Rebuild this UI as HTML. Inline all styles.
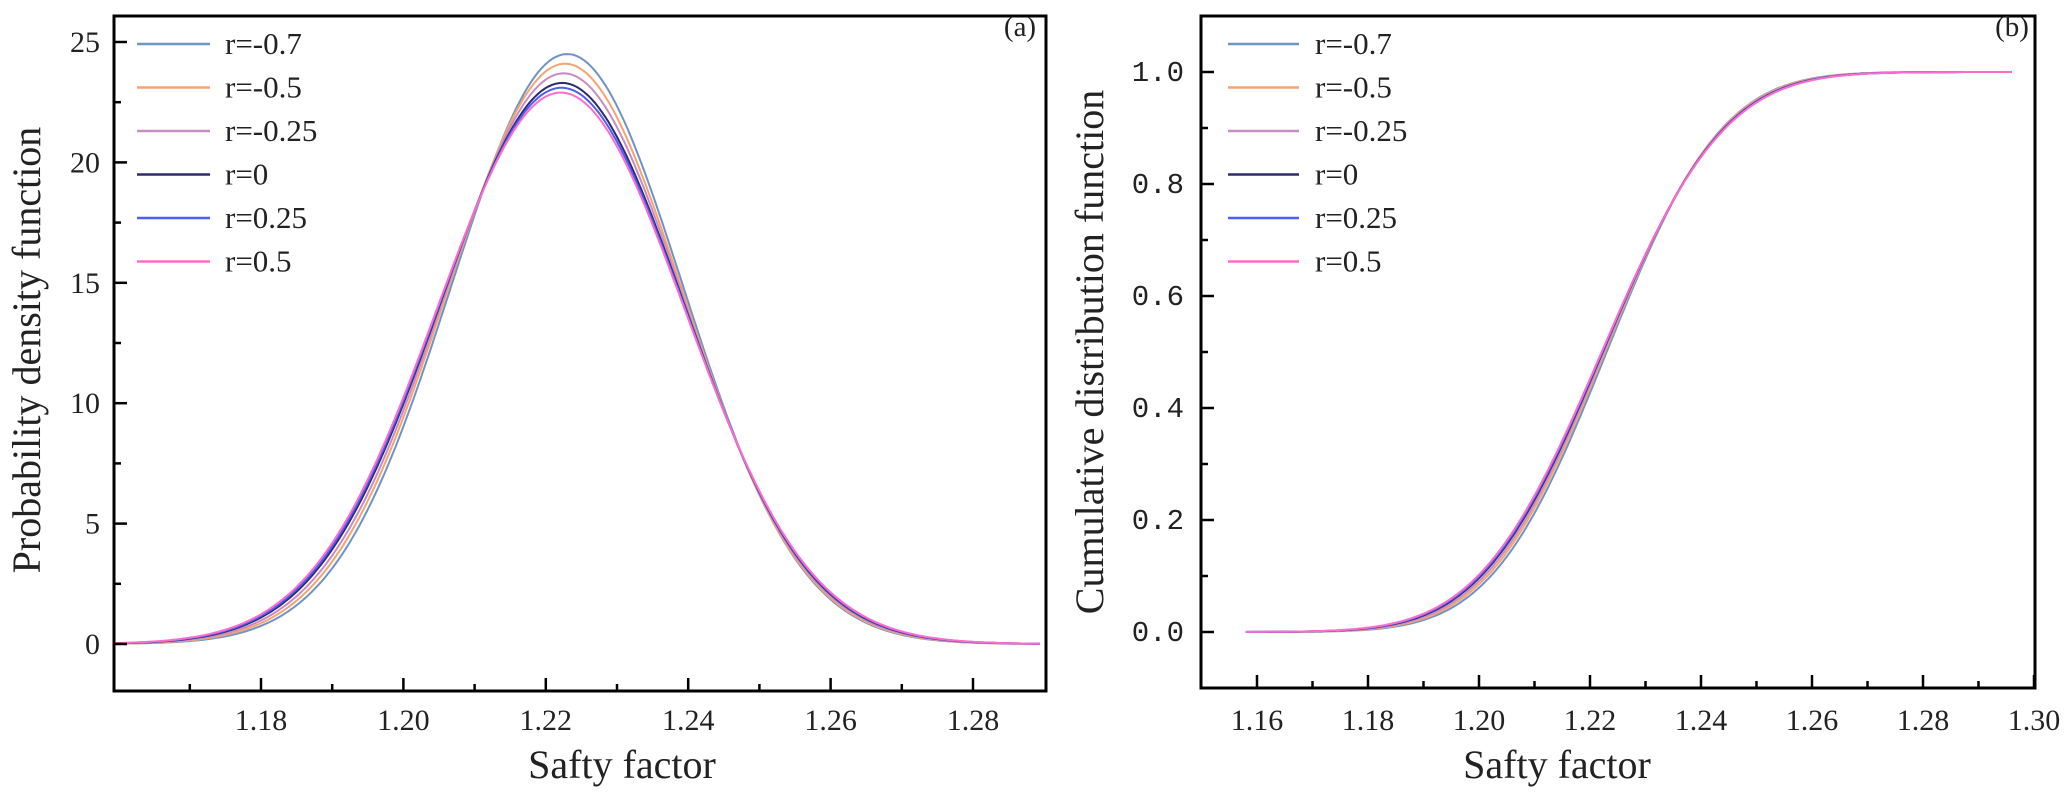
<!DOCTYPE html>
<html><head><meta charset="utf-8"><style>
html,body{margin:0;padding:0;background:#fff;}
svg text{font-family:"Liberation Serif",serif;fill:#222;}
</style></head><body>
<svg id="s" width="2065" height="789" xmlns="http://www.w3.org/2000/svg">
<rect width="2065" height="789" fill="#fff"/>
<g id="g"></g>
<text x="1020" y="36" font-size="29" text-anchor="middle">(a)</text>
<text x="2012" y="36" font-size="29" text-anchor="middle">(b)</text>
<text x="622" y="778" font-size="40" text-anchor="middle">Safty factor</text>
<text x="1557" y="778" font-size="40" text-anchor="middle">Safty factor</text>
<text transform="translate(40,350) rotate(-90)" font-size="40" text-anchor="middle">Probability density function</text>
<text transform="translate(1103,352) rotate(-90)" font-size="40" text-anchor="middle">Cumulative distribution function</text>
</svg>
<script>
var g=document.getElementById('g'),h='';
function L(x1,y1,x2,y2,c,w){h+='<line x1="'+x1+'" y1="'+y1+'" x2="'+x2+'" y2="'+y2+'" stroke="'+c+'" stroke-width="'+w+'"/>';}
function T(x,y,s,a,f,fs){h+='<text x="'+x+'" y="'+y+'" font-size="'+(fs||30)+'" text-anchor="'+a+'"'+(f?' style="font-family:'+f+'"':'')+'>'+s+'</text>';}
var cols=['#6f93c6','#f5a46f','#c98bc0','#2c2b6e','#4d5ff5','#ff6ccc'];
var labs=['r=-0.7','r=-0.5','r=-0.25','r=0','r=0.25','r=0.5'];
var peaks=[24.5,24.1,23.7,23.3,23.1,22.9];
var shifts=[0.0008,0.0005,0.0003,0.0001,0,-0.0001];
var mu=1.2222;
var LX0=114,LX1=1046,LT=16,LB=691;
function lx(v){return 261+(v-1.18)/0.02*142.4;}
function ly(v){return 644-v*24.08;}
for(var i=0;i<6;i++){var sd=1/(peaks[i]*Math.sqrt(2*Math.PI));var d='';var m=mu+shifts[i];
 for(var x=1.1594;x<=1.2895;x+=0.0005){var y=peaks[i]*Math.exp(-0.5*Math.pow((x-m)/sd,2));d+=(d?'L':'M')+lx(x).toFixed(1)+','+ly(y).toFixed(1);}
 h+='<path d="'+d+'" fill="none" stroke="'+cols[i]+'" stroke-width="2"/>';}
h+='<rect x="'+LX0+'" y="'+LT+'" width="'+(LX1-LX0)+'" height="'+(LB-LT)+'" fill="none" stroke="#000" stroke-width="3"/>';
for(var k=0;k<=25;k+=2.5){var y=ly(k);var maj=(k%5==0);L(LX0,y,LX0+(maj?13:7),y,'#000',2.5);if(maj)T(100,y+10,k,'end');}
for(var k=1.17;k<=1.2851;k+=0.01){var x=lx(k);var maj=Math.round(k*100)%2==0;L(x,LB,x,LB-(maj?13:7),'#000',2.5);if(maj)T(x,730,k.toFixed(2),'middle');}
for(var i=0;i<6;i++){var y=44+i*43.5;L(137,y,210,y,cols[i],2.5);T(225,y+10,labs[i],'start',null,31);}
var RX0=1201,RX1=2035,RT=16,RB=688;
function rx(v){return 1257+(v-1.16)/0.02*111;}
function ry(v){return 632-v*560;}
function erf(x){var t=1/(1+0.3275911*Math.abs(x));var y=1-(((((1.061405429*t-1.453152027)*t)+1.421413741)*t-0.284496736)*t+0.254829592)*t*Math.exp(-x*x);return x>=0?y:-y;}
for(var i=0;i<6;i++){var sd=1/(peaks[i]*Math.sqrt(2*Math.PI));var d='';var m=mu+shifts[i];
 for(var x=1.158;x<=1.296;x+=0.0005){var y=0.5*(1+erf((x-m)/(sd*Math.SQRT2)));d+=(d?'L':'M')+rx(x).toFixed(1)+','+ry(y).toFixed(1);}
 h+='<path d="'+d+'" fill="none" stroke="'+cols[i]+'" stroke-width="2"/>';}
h+='<rect x="'+RX0+'" y="'+RT+'" width="'+(RX1-RX0)+'" height="'+(RB-RT)+'" fill="none" stroke="#000" stroke-width="3"/>';
for(var k=0;k<=10;k++){var v=k/10;var y=ry(v);var maj=(k%2==0);L(RX0,y,RX0+(maj?13:7),y,'#000',2.5);if(maj)T(1184,y+9,v.toFixed(1),'end','\'Liberation Mono\',monospace',29);}
for(var k=1.16;k<=1.3001;k+=0.01){var x=rx(k);var maj=Math.round(k*100)%2==0;L(x,RB,x,RB-(maj?13:7),'#000',2.5);if(maj)T(x,730,k.toFixed(2),'middle');}
for(var i=0;i<6;i++){var y=44+i*43.5;L(1228,y,1299,y,cols[i],2.5);T(1315,y+10,labs[i],'start',null,31);}
g.innerHTML=h;
</script>
</body></html>
